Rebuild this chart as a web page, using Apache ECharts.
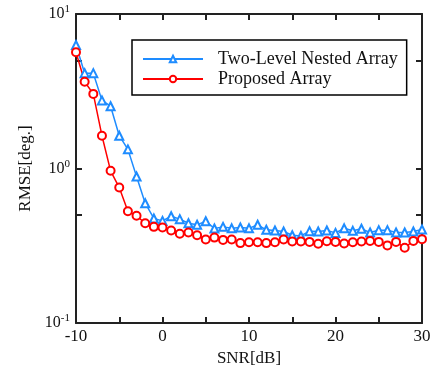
<!DOCTYPE html>
<html>
<head>
<meta charset="utf-8">
<script src="https://cdn.jsdelivr.net/npm/echarts@6/dist/echarts.min.js"></script>
<style>
  html, body {margin: 0; padding: 0; background: #fff;}
  #chart {width: 435px; height: 381px;}
</style>
</head>
<body>
<div id="chart"></div>
<script>
const snr = [-10, -9, -8, -7, -6, -5, -4, -3, -2, -1, 0, 1, 2, 3, 4, 5, 6, 7, 8, 9, 10,
  11, 12, 13, 14, 15, 16, 17, 18, 19, 20, 21, 22, 23, 24, 25, 26, 27, 28, 29, 30];
const nestedRmse = [6.3, 4.14, 4.14, 2.76, 2.53, 1.63, 1.33, 0.887, 0.596, 0.475, 0.458,
  0.491, 0.47, 0.442, 0.432, 0.456, 0.409, 0.419, 0.41, 0.415, 0.41,
  0.432, 0.401, 0.397, 0.391, 0.37, 0.366, 0.393, 0.391, 0.397, 0.383,
  0.41, 0.395, 0.407, 0.385, 0.399, 0.399, 0.385, 0.385, 0.391, 0.403];
const proposedRmse = [5.66, 3.64, 3.04, 1.63, 0.966, 0.753, 0.529, 0.494, 0.442, 0.419, 0.415,
  0.397, 0.378, 0.385, 0.37, 0.347, 0.357, 0.345, 0.347, 0.329, 0.333,
  0.333, 0.329, 0.333, 0.347, 0.337, 0.337, 0.335, 0.326, 0.338, 0.335,
  0.327, 0.333, 0.337, 0.34, 0.335, 0.318, 0.335, 0.307, 0.34, 0.349];
const yTicks = [0.1, 0.5, 1, 5, 10];
const yLabels = [0.1, 1, 10];

const serif = 'Liberation Serif';
const axisColor = '#222';

const chart = echarts.init(document.getElementById('chart'));

const xBase = {
  type: 'value',
  min: -10,
  max: 30,
  interval: 5,
  splitLine: {show: false},
  axisLine: {onZero: false, lineStyle: {color: axisColor, width: 2}},
  axisTick: {inside: true, length: 6, lineStyle: {color: axisColor, width: 2}},
};
const yBase = {
  type: 'log',
  logBase: 10,
  min: 0.1,
  max: 10,
  splitLine: {show: false},
  axisLine: {onZero: false, lineStyle: {color: axisColor, width: 2}},
  axisTick: {inside: true, length: 6, customValues: yTicks, lineStyle: {color: axisColor, width: 2}},
};

chart.setOption({
  animation: false,
  grid: {left: 76, right: 13, top: 14, bottom: 58},
  legend: {
    orient: 'vertical',
    left: 132,
    top: 40,
    borderColor: '#000',
    borderWidth: 1.5,
    padding: [10, 9, 7, 10],
    itemWidth: 60,
    itemHeight: 8,
    itemGap: 2,
    textStyle: {fontFamily: serif, fontSize: 18, color: '#111', lineHeight: 18, padding: [0, 0, 0, 10]},
    data: ['Two-Level Nested Array', 'Proposed Array'],
  },
  xAxis: [
    {
      ...xBase,
      position: 'bottom',
      name: 'SNR[dB]',
      nameLocation: 'middle',
      nameGap: 24,
      nameTextStyle: {fontFamily: serif, fontSize: 17, color: '#111'},
      axisLabel: {
        fontFamily: serif, fontSize: 17, color: '#111', margin: 5,
        formatter: v => (v % 10 === 0 ? String(v) : ''),
      },
    },
    {...xBase, position: 'top', axisLabel: {show: false}},
  ],
  yAxis: [
    {
      ...yBase,
      position: 'left',
      name: 'RMSE[deg.]',
      nameLocation: 'middle',
      nameGap: 36,
      nameTextStyle: {fontFamily: serif, fontSize: 17, color: '#111'},
      axisLabel: {
        customValues: yLabels,
        margin: 6,
        formatter: v => '{b|10}{s|' + Math.round(Math.log10(v)) + '}',
        rich: {
          b: {fontFamily: serif, fontSize: 16, color: '#111'},
          s: {fontFamily: serif, fontSize: 11, color: '#111', padding: [0, 0, 9, 0]},
        },
      },
    },
    {...yBase, position: 'right', axisLabel: {show: false}},
  ],
  series: [
    {name: 'Two-Level Nested Array', data: snr.map((x, i) => [x, nestedRmse[i]]), color: '#1e8cff'},
    {name: 'Proposed Array', data: snr.map((x, i) => [x, proposedRmse[i]]), color: '#ff0000'},
  ].map((s, i) => ({
    ...s,
    type: 'line',
    xAxisIndex: 0,
    yAxisIndex: 0,
    symbol: i === 0 ? 'emptyTriangle' : 'emptyCircle',
    symbolSize: 8,
    lineStyle: {width: 1.5},
    itemStyle: {borderWidth: 1.3},
  })),
});
</script>
</body>
</html>
